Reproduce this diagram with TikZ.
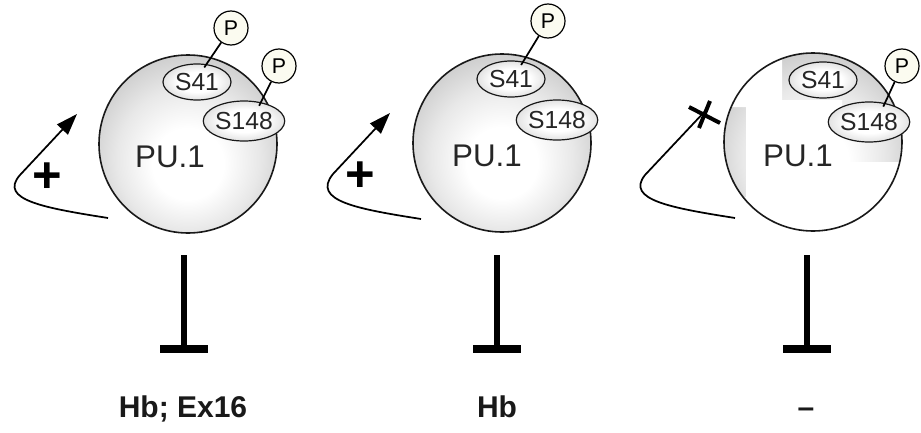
\documentclass[tikz,border=0pt]{standalone}
\usepackage{fontspec}
\setmainfont{Liberation Sans}
\usetikzlibrary{arrows.meta,shapes.geometric}

% soft ball: white highlight below the centre, grey towards the rim
% (the rim of a shaded circle lies at about 35bp)
\pgfdeclareradialshading{puball}{\pgfpoint{0bp}{-7bp}}{%
  color(0bp)=(white); color(10bp)=(white); color(20bp)=(gray!18);
  color(28bp)=(gray!38); color(33bp)=(gray!58); color(37bp)=(gray!70);
  color(50bp)=(gray!80)}
% phosphosite ovals
\pgfdeclareradialshading{sitegrad}{\pgfpoint{0bp}{0bp}}{%
  color(0bp)=(white); color(14bp)=(white); color(36bp)=(gray!45); color(50bp)=(gray!50)}
\definecolor{pfill}{HTML}{FBFBF0}

\begin{document}
\begin{tikzpicture}[x=0.75pt,y=-0.75pt]
\tikzset{
  ballbody/.style={circle, minimum size=133.5pt, inner sep=0pt, shade, shading=puball},
  ballrim/.style={draw=black!90, line width=1.2pt},
  site/.style={ellipse, draw=black!90, line width=0.9pt, shade, shading=sitegrad,
    inner sep=0pt, font=\fontsize{18.5}{18.5}\selectfont, text=black!85},
  siteA/.style={site, minimum width=51pt, minimum height=27pt},
  siteB/.style={site, minimum width=46.5pt, minimum height=30pt},
  phos/.style={circle, draw, line width=0.9pt, fill=pfill, minimum size=25.5pt,
    inner sep=0pt, font=\fontsize{16}{16}\selectfont},
  link/.style={line width=1.3pt, shorten >=-3pt},
  loopline/.style={line width=1.3pt},
  activ/.style={loopline, -{Triangle[length=16pt, width=11pt]}},
  stem/.style={line width=4.9pt},
  crossbar/.style={line width=6pt},
  blockx/.style={line width=3pt},
  lab/.style={font=\fontsize{22.5}{22.5}\selectfont\bfseries, anchor=base, text=black!90},
  sign/.style={font=\fontsize{38}{38}\selectfont\bfseries},
  pu/.style={font=\fontsize{23.5}{23.5}\selectfont, text=black!85},
}
\fill[white] (0,0) rectangle (921,432);
\useasboundingbox (0,0) rectangle (921,432);

% ---------- panel 1: S41 and S148 phosphorylated ----------
\node[ballbody] (ball1) at (188,144) {};
\draw[ballrim] (ball1.center) circle (89);
\node[pu] (pu1) at (170,157) {PU.1};
\node[siteA] (s41a) at (197,82) {S41};
\node[siteB] (s148a) at (244,121) {S148};
\node[phos] (p1a) at (231,28) {P};
\node[phos] (p1b) at (279,66) {P};
\draw[link] (p1a) -- (s41a.62);
\draw[link] (p1b) -- (s148a.48);
\coordinate (c1s) at (108,218);
\coordinate (c1t) at (77,114);
\draw[activ] (c1s) .. controls (45,208) and (-2,200) .. (20,175) -- (c1t);
\node[sign] (plus1) at (47,178) {+};
\coordinate (top1) at (184,255);
\coordinate (end1) at (184,348.5);
\draw[stem] (top1) -- (end1);
\draw[crossbar] (end1) ++(-24,0) -- ++(48,0);
\node[lab] (lab1) at (183,417) {Hb; Ex16};

% ---------- panel 2: S41 phosphorylated ----------
\node[ballbody] (ball2) at (502,143) {};
\draw[ballrim] (ball2.center) circle (89);
\node[pu] (pu2) at (487,156) {PU.1};
\node[siteA] (s41b) at (511,79) {S41};
\node[siteB] (s148b) at (557,120) {S148};
\node[phos] (p2a) at (548,21) {P};
\draw[link] (p2a) -- (s41b.55);
\coordinate (c2s) at (421,219);
\coordinate (c2t) at (390,113);
\draw[activ] (c2s) .. controls (358,209) and (311,201) .. (333,174) -- (c2t);
\node[sign] (plus2) at (360,177) {+};
\coordinate (top2) at (497,255);
\coordinate (end2) at (497,348.5);
\draw[stem] (top2) -- (end2);
\draw[crossbar] (end2) ++(-24,0) -- ++(48,0);
\node[lab] (lab2) at (497,417) {Hb};

% ---------- panel 3: S148 phosphorylated ----------
\node[ballbody] (ball3) at (813,142) {};
\begin{scope}
  \clip (ball3.center) circle (89);
  % white cover leaving grey patches at the upper right and the left rim
  \fill[white, even odd rule] (720,50) rectangle (910,240)
    (782,50) rectangle (910,100)
    (842,100) rectangle (910,162)
    (723,107) rectangle (746,197);
\end{scope}
\draw[ballrim] (ball3.center) circle (89);
\node[pu] (pu3) at (798,156) {PU.1};
\node[siteA] (s41c) at (823,80) {S41};
\node[siteB] (s148c) at (869,122) {S148};
\node[phos] (p3b) at (902,66) {P};
\draw[link] (p3b) -- (s148c.50);
\coordinate (c3s) at (735,218);
\coordinate (c3t) at (708,108);
\draw[loopline] (c3s) .. controls (672,208) and (625,200) .. (645,175) -- (c3t);
\coordinate (x3) at (704,115);
\draw[blockx] (x3) ++(-15,-8) -- ++(31,16);
\draw[blockx] (x3) ++(-5,13) -- ++(11,-27);
\coordinate (top3) at (807,255);
\coordinate (end3) at (807,348.5);
\draw[stem] (top3) -- (end3);
\draw[crossbar] (end3) ++(-24,0) -- ++(48,0);
\node[lab] (lab3) at (806,417) {–};
\end{tikzpicture}
\end{document}
